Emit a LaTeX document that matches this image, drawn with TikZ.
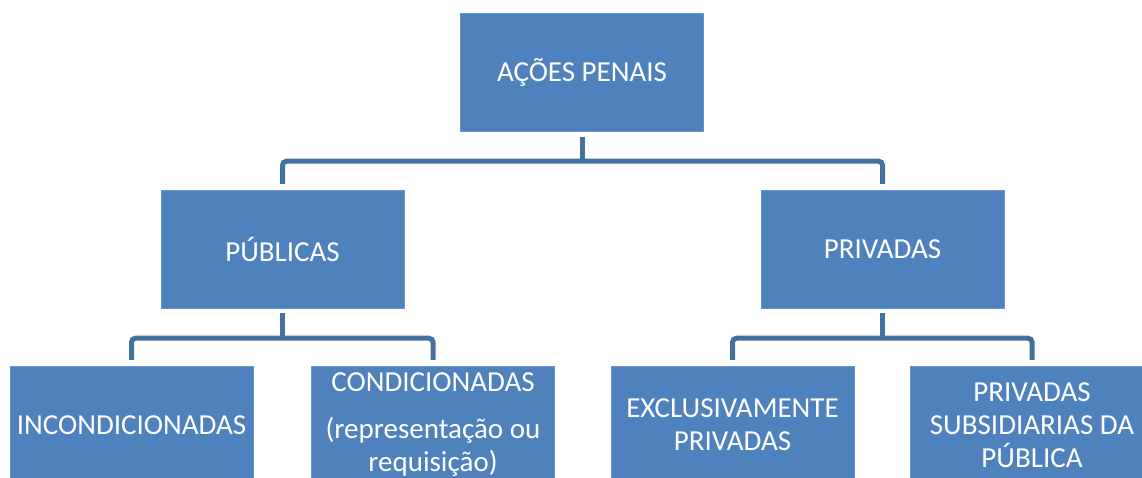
\documentclass[tikz,border=0pt]{standalone}
\usepackage{fontspec}
\setmainfont{Carlito}
\definecolor{caixa}{HTML}{4F81BD}
\definecolor{ligacao}{HTML}{41719C}
\tikzset{
  caixa/.style={draw=caixa!85!white, fill=caixa, text=white, minimum width=243pt, minimum height=118pt, inner sep=2pt, align=center, font=\fontsize{29}{33}\selectfont},
  ligacao/.style={draw=ligacao, line width=5pt, rounded corners=4pt}
}

\begin{document}
\begin{tikzpicture}[x=1pt,y=1pt]
        \clip (0,0) rectangle (1142,477); % area visivel da figura
        \node[caixa] (acoes) at (582,404.5) {AÇÕES PENAIS}; % caixa de topo
        \node[caixa] (publicas) at (282.5,228) {PÚBLICAS};
        \node[caixa] (privadas) at (882.5,228) {PRIVADAS};
        \node[caixa] (incond) at (131.5,52) {INCONDICIONADAS}; % caixas de baixo, cortadas pela margem
        \node[caixa] (cond) at (433,52) {CONDICIONADAS\\[14pt](representação ou\\requisição)};
        \node[caixa] (exclus) at (732.5,52) {EXCLUSIVAMENTE\\PRIVADAS};
        \node[caixa] (subsid) at (1032,52) {PRIVADAS\\SUBSIDIARIAS DA\\PÚBLICA};
        \draw[ligacao] ([yshift=-5pt]acoes.south) -- ([yshift=-29.5pt]acoes.south); % ligacao do topo
        \draw[ligacao] ([yshift=6pt]publicas.north) |- ([yshift=-29.5pt]acoes.south) -| ([yshift=6pt]privadas.north);
        \draw[ligacao] ([yshift=-5pt]publicas.south) -- ([yshift=-30pt]publicas.south); % ramo das publicas
        \draw[ligacao] ([yshift=6pt]incond.north) |- ([yshift=-30pt]publicas.south) -| ([yshift=6pt]cond.north);
        \draw[ligacao] ([yshift=-5pt]privadas.south) -- ([yshift=-30pt]privadas.south); % ramo das privadas
        \draw[ligacao] ([yshift=6pt]exclus.north) |- ([yshift=-30pt]privadas.south) -| ([yshift=6pt]subsid.north);
    \end{tikzpicture}
\end{document}
